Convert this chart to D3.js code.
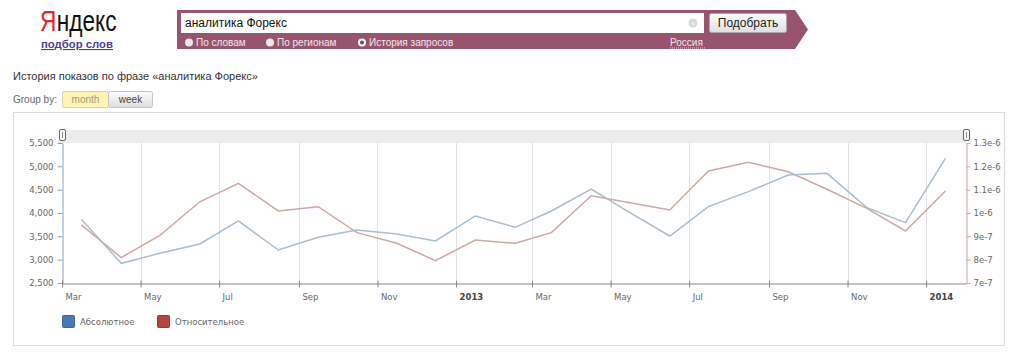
<!DOCTYPE html>
<html>
<head>
<meta charset="utf-8">
<script src="https://cdn.jsdelivr.net/npm/d3@7"></script>
<style>
  body { margin: 0; background: #fff; font-family: "Liberation Sans", Arial, sans-serif; }
  svg { display: block; }
</style>
</head>
<body>
<div id="wrapper"></div>
<script>
// monthly points (Yandex wordstat history, mid-month)
const months = [
  '2012-03-16', '2012-04-16', '2012-05-16', '2012-06-16', '2012-07-16', '2012-08-16',
  '2012-09-16', '2012-10-16', '2012-11-16', '2012-12-16', '2013-01-16', '2013-02-16',
  '2013-03-16', '2013-04-16', '2013-05-16', '2013-06-16', '2013-07-16', '2013-08-16',
  '2013-09-16', '2013-10-16', '2013-11-16', '2013-12-16', '2014-01-16'
]
const absolute = [
  3865, 2922, 3136, 3336, 3829, 3207, 3479, 3636, 3550, 3400, 3936, 3693,
  4043, 4514, 4007, 3507, 4136, 4457, 4814, 4850, 4114, 3793, 5171
]
const relative = [
  9.49e-7, 8.09e-7, 9.04e-7, 1.048e-6, 1.127e-6, 1.009e-6, 1.027e-6, 9.16e-7,
  8.7e-7, 7.96e-7, 8.84e-7, 8.7e-7, 9.16e-7, 1.074e-6, 1.044e-6, 1.013e-6,
  1.18e-6, 1.217e-6, 1.177e-6, 1.102e-6, 1.02e-6, 9.23e-7, 1.094e-6
]

// axis ticks
const leftTicks = [2500, 3000, 3500, 4000, 4500, 5000, 5500]
const rightTicks = [7e-7, 8e-7, 9e-7, 1e-6, 1.1e-6, 1.2e-6, 1.3e-6]
const rightTickLabels = ['7e-7', '8e-7', '9e-7', '1e-6', '1.1e-6', '1.2e-6', '1.3e-6']
const xTickDates = [
  '2012-03-01', '2012-05-01', '2012-07-01', '2012-09-01', '2012-11-01', '2013-01-01',
  '2013-03-01', '2013-05-01', '2013-07-01', '2013-09-01', '2013-11-01', '2014-01-01'
]
const xTickLabels = ['Mar', 'May', 'Jul', 'Sep', 'Nov', '2013', 'Mar', 'May', 'Jul', 'Sep', 'Nov', '2014']

const seriesNames = ['Абсолютное', 'Относительное']

const parseDate = d3.utcParse('%Y-%m-%d')

const dimensions = {
  width: 1024,
  height: 354,
  left: 62,
  right: 966,
  top: 143,
  bottom: 283,
}

const svg = d3
  .select('#wrapper')
  .append('svg')
  .attr('width', dimensions.width)
  .attr('height', dimensions.height)

const defs = svg.append('defs')
const btnGrad = defs.append('linearGradient').attr('id', 'btn').attr('x1', 0).attr('y1', 0).attr('x2', 0).attr('y2', 1)
btnGrad.append('stop').attr('offset', '0%').attr('stop-color', '#fdfdfd')
btnGrad.append('stop').attr('offset', '100%').attr('stop-color', '#dedede')

// ---- header ----
const header = svg.append('g').attr('class', 'header')
// logo: narrowed with a scale, red first letter placed before the rest
const logo = header.append('g').attr('transform', 'translate(40,31) scale(0.78,1)')
const logoFirst = logo.append('text')
  .attr('x', 0).attr('y', 0)
  .attr('font-size', 29).attr('fill', '#e52420')
  .text('Я')
logo.append('text')
  .attr('x', logoFirst.node().getComputedTextLength() + 0.5).attr('y', 0)
  .attr('font-size', 29).attr('fill', '#111')
  .text('ндекс')

header.append('text')
  .attr('x', 41).attr('y', 48)
  .attr('font-size', 11).attr('font-weight', 'bold')
  .attr('fill', '#4d3f93')
  .attr('text-decoration', 'underline')
  .attr('textLength', 72).attr('lengthAdjust', 'spacingAndGlyphs')
  .text('подбор слов')

// search block
header.append('path')
  .attr('d', 'M177,10 L795,10 L808,29.5 L795,49 L177,49 Z')
  .attr('fill', '#98546f')
header.append('rect')
  .attr('x', 181).attr('y', 13).attr('width', 523).attr('height', 20)
  .attr('fill', '#fff')
header.append('text')
  .attr('x', 185).attr('y', 27)
  .attr('font-size', 12).attr('fill', '#111')
  .text('аналитика Форекс')
header.append('circle').attr('cx', 693).attr('cy', 23).attr('r', 4.5).attr('fill', '#d8d8d8')
header.append('text').attr('x', 693).attr('y', 25.5).attr('text-anchor', 'middle')
  .attr('font-size', 7).attr('fill', '#fff').text('×')

header.append('rect')
  .attr('x', 709.5).attr('y', 13.5).attr('width', 77).attr('height', 19).attr('rx', 2)
  .attr('fill', 'url(#btn)').attr('stroke', '#a9a9a9')
header.append('text')
  .attr('x', 748).attr('y', 27).attr('text-anchor', 'middle')
  .attr('font-size', 12).attr('fill', '#222')
  .text('Подобрать')

const radios = [
  { x: 189, label: 'По словам', on: false },
  { x: 270, label: 'По регионам', on: false },
  { x: 362, label: 'История запросов', on: true },
]
radios.forEach((r) => {
  header.append('circle').attr('cx', r.x).attr('cy', 42.5).attr('r', 4)
    .attr('fill', r.on ? '#f4f4f4' : '#e8e8e8')
  if (r.on) header.append('circle').attr('cx', r.x).attr('cy', 42.5).attr('r', 2).attr('fill', '#555')
  header.append('text').attr('x', r.x + 7).attr('y', 46)
    .attr('font-size', 10).attr('fill', '#f3e6ec').text(r.label)
})
header.append('text').attr('x', 670).attr('y', 46)
  .attr('font-size', 10).attr('fill', '#f3e6ec').text('Россия')
header.append('line').attr('x1', 670).attr('x2', 705).attr('y1', 48).attr('y2', 48)
  .attr('stroke', '#e8d4dd').attr('stroke-dasharray', '1,1')

// title and group-by
svg.append('text')
  .attr('x', 13).attr('y', 80)
  .attr('font-size', 11).attr('fill', '#333')
  .text('История показов по фразе «аналитика Форекс»')
svg.append('text')
  .attr('x', 13).attr('y', 103)
  .attr('font-size', 10).attr('fill', '#666')
  .text('Group by:')
svg.append('rect').attr('x', 62.5).attr('y', 91.5).attr('width', 46).attr('height', 16).attr('rx', 2)
  .attr('fill', '#fff3b5').attr('stroke', '#d4d0b8')
svg.append('text').attr('x', 85.5).attr('y', 103).attr('text-anchor', 'middle')
  .attr('font-size', 10).attr('fill', '#a39a78').text('month')
svg.append('rect').attr('x', 108.5).attr('y', 91.5).attr('width', 44).attr('height', 16).attr('rx', 2)
  .attr('fill', 'url(#btn)').attr('stroke', '#c4c4c4')
svg.append('text').attr('x', 130.5).attr('y', 103).attr('text-anchor', 'middle')
  .attr('font-size', 10).attr('fill', '#444').text('week')

// chart container
svg.append('rect')
  .attr('x', 13.5).attr('y', 112.5).attr('width', 991).attr('height', 233)
  .attr('fill', '#fff').attr('stroke', '#dcdcdc')

// ---- scales ----
const xScale = d3.scaleUtc()
  .domain([parseDate('2012-03-01'), parseDate('2014-02-01')])
  .range([dimensions.left, dimensions.right])
const yLeft = d3.scaleLinear()
  .domain([2500, 5500])
  .range([dimensions.bottom, dimensions.top])
const yRight = d3.scaleLinear()
  .domain([7e-7, 1.3e-6])
  .range([dimensions.bottom, dimensions.top])

const chart = svg.append('g').attr('class', 'chart')

// range selector band
chart.append('rect')
  .attr('x', dimensions.left).attr('y', 130)
  .attr('width', dimensions.right - dimensions.left).attr('height', 13)
  .attr('fill', '#ececec')

// vertical grid
chart.append('g').attr('class', 'grid')
  .selectAll('line')
  .data(xTickDates.slice(1))
  .join('line')
  .attr('x1', (d) => Math.round(xScale(parseDate(d))) + 0.5)
  .attr('x2', (d) => Math.round(xScale(parseDate(d))) + 0.5)
  .attr('y1', dimensions.top).attr('y2', dimensions.bottom)
  .attr('stroke', '#e2e2e2')

// axes
const leftAxis = chart.append('g')
  .attr('transform', `translate(${dimensions.left + 0.5},0)`)
  .call(d3.axisLeft(yLeft).tickValues(leftTicks).tickFormat(d3.format(',')).tickSize(5).tickSizeOuter(0).tickPadding(4))
leftAxis.selectAll('path, line').attr('stroke', '#8fa2b3')

const rightAxis = chart.append('g')
  .attr('transform', `translate(${dimensions.right + 0.5},0)`)
  .call(d3.axisRight(yRight).tickValues(rightTicks).tickFormat((d, i) => rightTickLabels[i]).tickSize(4).tickSizeOuter(0).tickPadding(3))
rightAxis.selectAll('path, line').attr('stroke', '#c9a5a3')

const xAxis = chart.append('g')
  .attr('transform', `translate(0,${dimensions.bottom + 0.5})`)
  .call(d3.axisBottom(xScale).tickValues(xTickDates.map(parseDate)).tickFormat((d, i) => xTickLabels[i]).tickSize(4).tickSizeOuter(0))
xAxis.select('.domain').attr('stroke', '#888')
xAxis.selectAll('line').attr('stroke', '#888').attr('y1', -3)
xAxis.selectAll('text')
  .attr('text-anchor', 'start')
  .attr('x', 3).attr('y', 10)
  .attr('font-weight', (d, i) => (/^\d+$/.test(xTickLabels[i]) ? 'bold' : 'normal'))
  .attr('fill', (d, i) => (/^\d+$/.test(xTickLabels[i]) ? '#444' : '#666'))

chart.selectAll('.tick text')
  .attr('font-family', '"DejaVu Sans", Verdana, sans-serif')
  .attr('font-size', 8.5)
leftAxis.selectAll('text').attr('fill', '#666')
rightAxis.selectAll('text').attr('fill', '#666')

// handles on the selector band
const handles = [dimensions.left, dimensions.right]
handles.forEach((hx) => {
  chart.append('rect')
    .attr('x', hx - 2.5).attr('y', 129.5).attr('width', 6).attr('height', 11).attr('rx', 1.5)
    .attr('fill', '#fafafa').attr('stroke', '#666')
  chart.append('line')
    .attr('x1', hx + 0.5).attr('x2', hx + 0.5).attr('y1', 132).attr('y2', 138)
    .attr('stroke', '#888')
})

// lines
const points = months.map((m, i) => ({ date: parseDate(m), abs: absolute[i], rel: relative[i] }))

const absLine = d3.line().x((d) => xScale(d.date)).y((d) => yLeft(d.abs))
const relLine = d3.line().x((d) => xScale(d.date)).y((d) => yRight(d.rel))

chart.append('path')
  .datum(points)
  .attr('d', relLine)
  .attr('fill', 'none')
  .attr('stroke', '#cfa8a4')
  .attr('stroke-width', 1.5)

chart.append('path')
  .datum(points)
  .attr('d', absLine)
  .attr('fill', 'none')
  .attr('stroke', '#a9bdcd')
  .attr('stroke-width', 1.5)

// legend
const legendColors = ['#4a78b2', '#b6443f']
const legendX = [62, 157]
const legend = svg.append('g').attr('class', 'legend')
seriesNames.forEach((name, i) => {
  legend.append('rect')
    .attr('x', legendX[i] + 0.5).attr('y', 315.5).attr('width', 12).attr('height', 12).attr('rx', 1)
    .attr('fill', legendColors[i]).attr('stroke', d3.color(legendColors[i]).darker(0.5))
  legend.append('text')
    .attr('x', legendX[i] + 18).attr('y', 325)
    .attr('font-family', '"DejaVu Sans", Verdana, sans-serif')
    .attr('font-size', 8.5).attr('fill', '#666')
    .text(name)
})
</script>
</body>
</html>
